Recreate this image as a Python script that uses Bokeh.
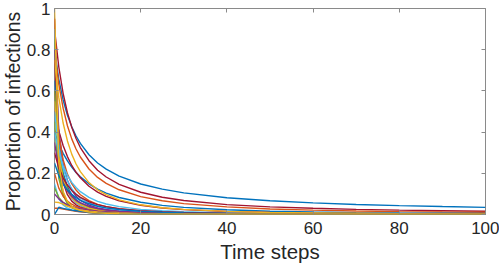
from bokeh.plotting import figure
from bokeh.models import FixedTicker, LinearAxis, Range1d
from bokeh.embed import file_html
from bokeh.resources import INLINE

# ---------------- data ----------------
time_steps = [0, 1, 2, 3, 4, 5, 6, 8, 10, 12, 15, 20, 25, 30, 40, 50, 60, 70, 80, 90, 100]

slow_blue = [0.8, 0.656, 0.556, 0.482, 0.426, 0.381, 0.345, 0.290, 0.25, 0.220, 0.186, 0.148, 0.123, 0.105, 0.0816, 0.0667, 0.0563, 0.0488, 0.043, 0.0385, 0.0348]
slow_red = [0.9, 0.716, 0.588, 0.494, 0.424, 0.369, 0.325, 0.261, 0.215, 0.182, 0.146, 0.108, 0.084, 0.068, 0.048, 0.037, 0.030, 0.025, 0.021, 0.018, 0.016]
slow_orange = [0.8, 0.632, 0.516, 0.431, 0.367, 0.318, 0.279, 0.221, 0.180, 0.151, 0.120, 0.087, 0.067, 0.053, 0.037, 0.027, 0.021, 0.017, 0.014, 0.012, 0.011]
mid_blue = [0.4, 0.343, 0.297, 0.260, 0.230, 0.204, 0.183, 0.149, 0.123, 0.104, 0.0826, 0.0592, 0.0444, 0.0346, 0.0227, 0.016, 0.0119, 0.0092, 0.0073, 0.0059, 0.0049]
mid_red = [0.5, 0.406, 0.335, 0.281, 0.238, 0.205, 0.178, 0.137, 0.109, 0.0882, 0.0666, 0.0446, 0.0318, 0.0237, 0.0145, 0.0097, 0.0069, 0.0052, 0.0040, 0.0032, 0.0026]

fast_b25 = [0.95, 0.238, 0.105, 0.059, 0.038, 0.026, 0.019, 0.012, 0.008, 0.006, 0.004, 0.002, 0.001, 0.001, 0.001, 0, 0, 0, 0, 0, 0]
fast_b2 = [0.95, 0.371, 0.197, 0.122, 0.082, 0.059, 0.045, 0.028, 0.019, 0.014, 0.01, 0.006, 0.004, 0.003, 0.002, 0.001, 0.001, 0, 0, 0, 0]
fast_b3 = [0.9, 0.352, 0.186, 0.115, 0.078, 0.056, 0.043, 0.027, 0.018, 0.013, 0.009, 0.005, 0.004, 0.003, 0.001, 0.001, 0.001, 0, 0, 0, 0]
fast_b4 = [0.85, 0.213, 0.094, 0.053, 0.034, 0.024, 0.017, 0.01, 0.007, 0.005, 0.003, 0.002, 0.001, 0.001, 0.001, 0, 0, 0, 0, 0, 0]
fast_b5 = [0.8, 0.408, 0.247, 0.166, 0.118, 0.089, 0.069, 0.045, 0.032, 0.024, 0.016, 0.01, 0.007, 0.005, 0.003, 0.002, 0.001, 0.001, 0.001, 0.001, 0]
fast_b6 = [0.75, 0.293, 0.155, 0.096, 0.065, 0.047, 0.035, 0.022, 0.015, 0.011, 0.008, 0.004, 0.003, 0.002, 0.001, 0.001, 0.001, 0, 0, 0, 0]
fast_b16 = [0.75, 0.567, 0.444, 0.357, 0.293, 0.245, 0.208, 0.155, 0.12, 0.096, 0.071, 0.047, 0.033, 0.025, 0.015, 0.01, 0.008, 0.006, 0.004, 0.004, 0.003]
fast_b7 = [0.65, 0.332, 0.201, 0.135, 0.096, 0.072, 0.056, 0.037, 0.026, 0.019, 0.013, 0.008, 0.005, 0.004, 0.002, 0.001, 0.001, 0.001, 0.001, 0, 0]
fast_b8 = [0.6, 0.384, 0.266, 0.196, 0.15, 0.119, 0.096, 0.067, 0.049, 0.038, 0.027, 0.017, 0.011, 0.008, 0.005, 0.003, 0.002, 0.002, 0.001, 0.001, 0.001]
fast_b24 = [0.6, 0.306, 0.185, 0.124, 0.089, 0.067, 0.052, 0.034, 0.024, 0.018, 0.012, 0.007, 0.005, 0.004, 0.002, 0.001, 0.001, 0.001, 0.001, 0, 0]
fast_b9 = [0.55, 0.281, 0.17, 0.114, 0.081, 0.061, 0.048, 0.031, 0.022, 0.016, 0.011, 0.007, 0.005, 0.003, 0.002, 0.001, 0.001, 0.001, 0, 0, 0]
fast_b10 = [0.5, 0.32, 0.222, 0.164, 0.125, 0.099, 0.08, 0.056, 0.041, 0.031, 0.022, 0.014, 0.01, 0.007, 0.004, 0.003, 0.002, 0.001, 0.001, 0.001, 0.001]
fast_b11 = [0.45, 0.176, 0.093, 0.058, 0.039, 0.028, 0.021, 0.013, 0.009, 0.007, 0.005, 0.003, 0.002, 0.001, 0.001, 0, 0, 0, 0, 0, 0]
fast_b23 = [0.4, 0.302, 0.237, 0.19, 0.156, 0.131, 0.111, 0.083, 0.064, 0.051, 0.038, 0.025, 0.018, 0.013, 0.008, 0.006, 0.004, 0.003, 0.002, 0.002, 0.002]
fast_b12 = [0.35, 0.224, 0.155, 0.114, 0.088, 0.069, 0.056, 0.039, 0.029, 0.022, 0.016, 0.01, 0.007, 0.005, 0.003, 0.002, 0.001, 0.001, 0.001, 0.001, 0.001]
fast_b13 = [0.3, 0.227, 0.178, 0.143, 0.117, 0.098, 0.083, 0.062, 0.048, 0.038, 0.028, 0.019, 0.013, 0.01, 0.006, 0.004, 0.003, 0.002, 0.002, 0.001, 0.001]
fast_b14 = [0.25, 0.189, 0.148, 0.119, 0.098, 0.082, 0.069, 0.052, 0.04, 0.032, 0.024, 0.016, 0.011, 0.008, 0.005, 0.003, 0.003, 0.002, 0.001, 0.001, 0.001]
fast_b15 = [0.2, 0.128, 0.089, 0.065, 0.05, 0.04, 0.032, 0.022, 0.016, 0.013, 0.009, 0.006, 0.004, 0.003, 0.002, 0.001, 0.001, 0.001, 0, 0, 0]
fast_b17 = [0.15, 0.077, 0.046, 0.031, 0.022, 0.017, 0.013, 0.009, 0.006, 0.004, 0.003, 0.002, 0.001, 0.001, 0.001, 0, 0, 0, 0, 0, 0]
fast_b18 = [0.13, 0.083, 0.058, 0.043, 0.033, 0.026, 0.021, 0.014, 0.011, 0.008, 0.006, 0.004, 0.002, 0.002, 0.001, 0.001, 0.001, 0, 0, 0, 0]
fast_b19 = [0.1, 0.076, 0.059, 0.048, 0.039, 0.033, 0.028, 0.021, 0.016, 0.013, 0.009, 0.006, 0.004, 0.003, 0.002, 0.001, 0.001, 0.001, 0.001, 0, 0]
fast_b20 = [0.06, 0.058, 0.05, 0.04, 0.033, 0.027, 0.022, 0.016, 0.012, 0.009, 0.007, 0.004, 0.003, 0.002, 0.001, 0.001, 0.001, 0, 0, 0, 0]
fast_b21 = [0.03, 0.03, 0.027, 0.023, 0.019, 0.016, 0.013, 0.01, 0.007, 0.006, 0.004, 0.003, 0.002, 0.001, 0.001, 0, 0, 0, 0, 0, 0]
fast_b22 = [0, 0.035, 0.03, 0.025, 0.021, 0.018, 0.015, 0.011, 0.008, 0.006, 0.004, 0.003, 0.002, 0.001, 0.001, 0, 0, 0, 0, 0, 0]
fast_b1 = [1.0, 0.25, 0.111, 0.063, 0.04, 0.028, 0.02, 0.012, 0.008, 0.006, 0.004, 0.002, 0.002, 0.001, 0.001, 0, 0, 0, 0, 0, 0]

x_ticks = [0, 20, 40, 60, 80, 100]
y_ticks = [0, 0.2, 0.4, 0.6, 0.8, 1]
y_tick_labels = ["0", "0.2", "0.4", "0.6", "0.8", "1"]
x_title = "Time steps"
y_title = "Proportion of infections"

# MATLAB default colour order
BLUE, ORANGE, YELLOW, PURPLE, GREEN, CYAN, RED = (
    "#0072BD", "#D95319", "#EDB120", "#7E2F8E", "#77AC30", "#4DBEEE", "#A2142F")

series = [
    (slow_blue, BLUE), (slow_red, RED), (slow_orange, ORANGE),
    (mid_blue, BLUE), (mid_red, RED),
    (fast_b25, PURPLE), (fast_b2, ORANGE), (fast_b3, CYAN), (fast_b4, GREEN),
    (fast_b5, PURPLE), (fast_b6, RED), (fast_b7, BLUE), (fast_b8, ORANGE),
    (fast_b24, GREEN), (fast_b9, YELLOW), (fast_b10, CYAN), (fast_b11, GREEN),
    (fast_b23, CYAN), (fast_b12, PURPLE), (fast_b13, RED), (fast_b14, BLUE),
    (fast_b15, ORANGE), (fast_b17, CYAN), (fast_b18, GREEN), (fast_b19, PURPLE),
    (fast_b16, YELLOW), (fast_b20, YELLOW), (fast_b21, ORANGE), (fast_b22, BLUE),
    (fast_b1, YELLOW),
]

FONT = "Liberation Sans"
TXT = "#262626"
BOX = "#8a8a8a"

p = figure(frame_width=431, frame_height=206, output_backend="svg", toolbar_location=None,
           x_range=Range1d(0, 100), y_range=Range1d(0, 1),
           min_border_left=50, min_border_right=14, min_border_top=8, min_border_bottom=51,
           styles={"position": "absolute", "top": "0px", "left": "-2px"})
p.background_fill_color = "white"
p.border_fill_color = "white"
p.outline_line_color = BOX
p.outline_line_width = 1
p.xgrid.visible = False
p.ygrid.visible = False

for vals, col in series:
    p.line(time_steps, vals, line_color=col, line_width=1.4)

def style_axis(ax, ticks):
    ax.ticker = FixedTicker(ticks=ticks)
    ax.minor_tick_line_color = None
    ax.major_tick_in = 4
    ax.major_tick_out = 0
    ax.major_tick_line_color = BOX
    ax.axis_line_color = None
    ax.major_label_text_font = FONT
    ax.major_label_text_font_size = "17px"
    ax.major_label_text_color = TXT

xa = p.xaxis[0]
ya = p.yaxis[0]
style_axis(xa, x_ticks)
style_axis(ya, y_ticks)
ya.major_label_overrides = {t: s for t, s in zip(y_ticks, y_tick_labels)}
xa.major_label_standoff = 7
ya.major_label_standoff = 4
xa.axis_label = x_title
ya.axis_label = y_title
for ax in (xa, ya):
    ax.axis_label_text_font = FONT
    ax.axis_label_text_font_style = "normal"
    ax.axis_label_text_color = TXT
xa.axis_label_text_font_size = "20.5px"
ya.axis_label_text_font_size = "19.5px"
xa.axis_label_standoff = 3
ya.axis_label_standoff = 0

# box ticks on the top and right sides (no labels)
top_ax = LinearAxis()
style_axis(top_ax, x_ticks)
top_ax.major_label_text_font_size = "0px"
top_ax.major_label_standoff = 0
top_ax.major_label_overrides = {t: "" for t in x_ticks}
p.add_layout(top_ax, "above")
right_ax = LinearAxis()
style_axis(right_ax, y_ticks)
right_ax.major_label_text_font_size = "0px"
right_ax.major_label_standoff = 0
right_ax.major_label_overrides = {t: "" for t in y_ticks}
p.add_layout(right_ax, "right")

open("out.html", "w").write(file_html(p, INLINE))
